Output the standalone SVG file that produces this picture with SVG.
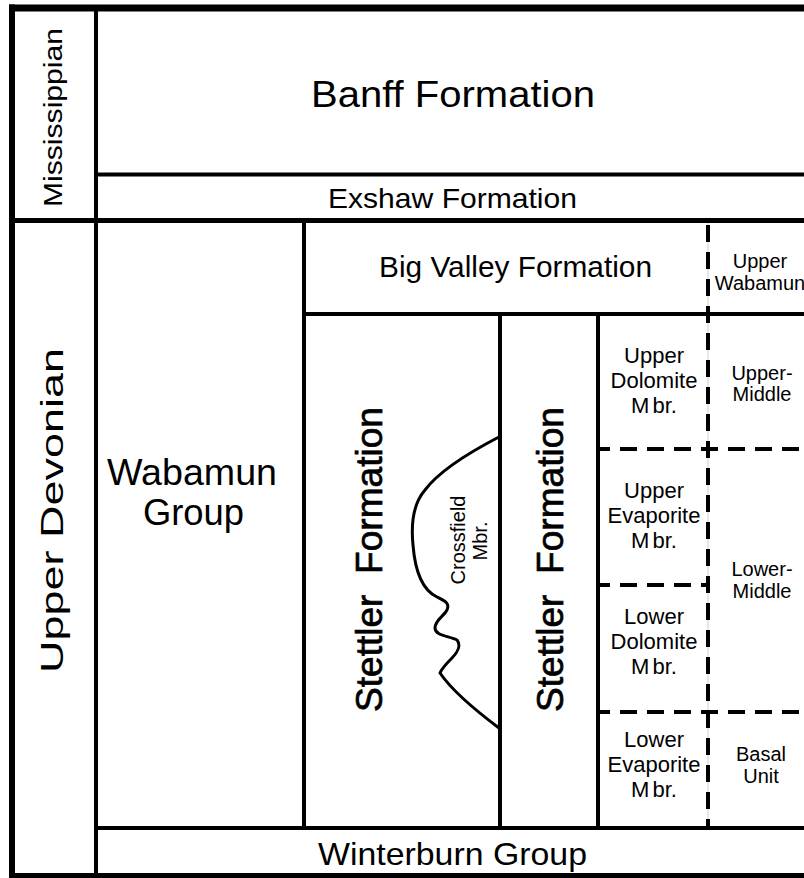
<svg xmlns="http://www.w3.org/2000/svg" width="804" height="878" viewBox="0 0 804 878">
<style>
  text { font-family: "Liberation Sans", Arial, Helvetica, sans-serif; fill: #000; text-anchor: middle; }
  .ln { stroke: #000; fill: none; stroke-linecap: butt; }
  .dash { stroke: #000; stroke-width: 4; fill: none; stroke-dasharray: 17 10; }
  .faint { stroke: #cfcfcf; stroke-width: 1; fill: none; }
  .big { font-size: 36px; }
  .mid { font-size: 30px; }
  .sm { font-size: 22px; }
  .xs { font-size: 20px; }
  .stet { font-size: 37px; stroke: #000; stroke-width: 0.7; }
  .cross { stroke: #000; stroke-width: 3; fill: none; stroke-linejoin: round; }
</style>
<rect x="0" y="0" width="804" height="878" fill="#fff"/>

<g id="mississippian">
  <text transform="translate(62,117.5) rotate(-90)" font-size="26" textLength="179" lengthAdjust="spacingAndGlyphs">Mississippian</text>
</g>
<g id="upper-devonian">
  <text transform="translate(63,510.5) rotate(-90)" font-size="32" textLength="325" lengthAdjust="spacingAndGlyphs">Upper Devonian</text>
</g>
<g id="banff">
  <text class="big" x="453" y="107" textLength="284" lengthAdjust="spacingAndGlyphs">Banff Formation</text>
</g>
<g id="exshaw">
  <text x="452.5" y="208" font-size="28" textLength="249" lengthAdjust="spacingAndGlyphs">Exshaw Formation</text>
</g>
<g id="big-valley">
  <text class="mid" x="515.5" y="277" textLength="273" lengthAdjust="spacingAndGlyphs">Big Valley Formation</text>
</g>
<g id="wabamun-group">
  <text x="192" y="485" font-size="37" textLength="170" lengthAdjust="spacingAndGlyphs">Wabamun</text>
  <text x="193.5" y="525" font-size="37" textLength="101" lengthAdjust="spacingAndGlyphs">Group</text>
</g>
<g id="stettler-left">
  <text class="stet" transform="translate(382,559.5) rotate(-90)" textLength="305" lengthAdjust="spacingAndGlyphs" xml:space="preserve">Stettler  Formation</text>
</g>
<g id="crossfield">
  <path class="cross" d="M499,437 C470,452 440,470 425,490 C412,505 411,525 413,545 C415,570 422,590 437,597 C445,601 450,603 447,610 C444,616 435,620 435,628 C435,636 450,636 457,640 C461,645 458,652 452,658 C447,663 442,668 440,673 Q455,695 499,728"/>
  <text class="xs" transform="translate(465,540) rotate(-90)">Crossfield</text>
  <text class="xs" transform="translate(487,541) rotate(-90)">Mbr.</text>
</g>
<g id="stettler-right">
  <text class="stet" transform="translate(563,559.5) rotate(-90)" textLength="305" lengthAdjust="spacingAndGlyphs" xml:space="preserve">Stettler  Formation</text>
</g>
<g id="upper-wabamun">
  <text class="xs" x="760" y="268">Upper</text>
  <text class="xs" x="760" y="290">Wabamun</text>
</g>
<g id="upper-dolomite">
  <text class="sm" x="654" y="363">Upper</text>
  <text class="sm" x="654" y="388">Dolomite</text>
  <text class="sm" x="654" y="413">M<tspan dx="3">br.</tspan></text>
</g>
<g id="upper-middle">
  <text class="xs" x="762" y="380">Upper-</text>
  <text class="xs" x="762" y="401">Middle</text>
</g>
<g id="upper-evaporite">
  <text class="sm" x="654" y="498">Upper</text>
  <text class="sm" x="654" y="523">Evaporite</text>
  <text class="sm" x="654" y="548">M<tspan dx="3">br.</tspan></text>
</g>
<g id="lower-middle">
  <text class="xs" x="762" y="576">Lower-</text>
  <text class="xs" x="762" y="598">Middle</text>
</g>
<g id="lower-dolomite">
  <text class="sm" x="654" y="624">Lower</text>
  <text class="sm" x="654" y="649">Dolomite</text>
  <text class="sm" x="654" y="674">M<tspan dx="3">br.</tspan></text>
</g>
<g id="lower-evaporite">
  <text class="sm" x="654" y="747">Lower</text>
  <text class="sm" x="654" y="772">Evaporite</text>
  <text class="sm" x="654" y="797">M<tspan dx="3">br.</tspan></text>
</g>
<g id="basal-unit">
  <text class="xs" x="761" y="761">Basal</text>
  <text class="xs" x="761" y="783">Unit</text>
</g>
<g id="winterburn">
  <text x="452.5" y="865" font-size="32" textLength="269" lengthAdjust="spacingAndGlyphs">Winterburn Group</text>
</g>

<g id="connectors">
  <line class="faint" x1="708" y1="222" x2="708" y2="826"/>
  <line class="ln" stroke-width="4" x1="96" y1="8" x2="96" y2="876"/>
  <line class="ln" stroke-width="4" x1="96" y1="174.5" x2="804" y2="174.5"/>
  <line class="ln" stroke-width="5" x1="12" y1="220.5" x2="804" y2="220.5"/>
  <line class="ln" stroke-width="4" x1="304" y1="220" x2="304" y2="828"/>
  <line class="ln" stroke-width="4" x1="304" y1="314" x2="804" y2="314"/>
  <line class="ln" stroke-width="4" x1="500" y1="314" x2="500" y2="828"/>
  <line class="ln" stroke-width="4" x1="598" y1="314" x2="598" y2="828"/>
  <line class="ln" stroke-width="4" x1="96" y1="828" x2="804" y2="828"/>
  <line class="dash" x1="708" y1="225" x2="708" y2="826"/>
  <line class="dash" x1="598" y1="449" x2="804" y2="449" stroke-dashoffset="5"/>
  <line class="dash" x1="598" y1="585" x2="708" y2="585" stroke-dashoffset="5"/>
  <line class="dash" x1="598" y1="712" x2="804" y2="712" stroke-dashoffset="5"/>
  <line class="ln" stroke-width="7" x1="9" y1="8" x2="804" y2="8"/>
  <line class="ln" stroke-width="6" x1="12" y1="4.5" x2="12" y2="878"/>
  <line class="ln" stroke-width="6" x1="9" y1="876" x2="804" y2="876"/>
</g>
</svg>
